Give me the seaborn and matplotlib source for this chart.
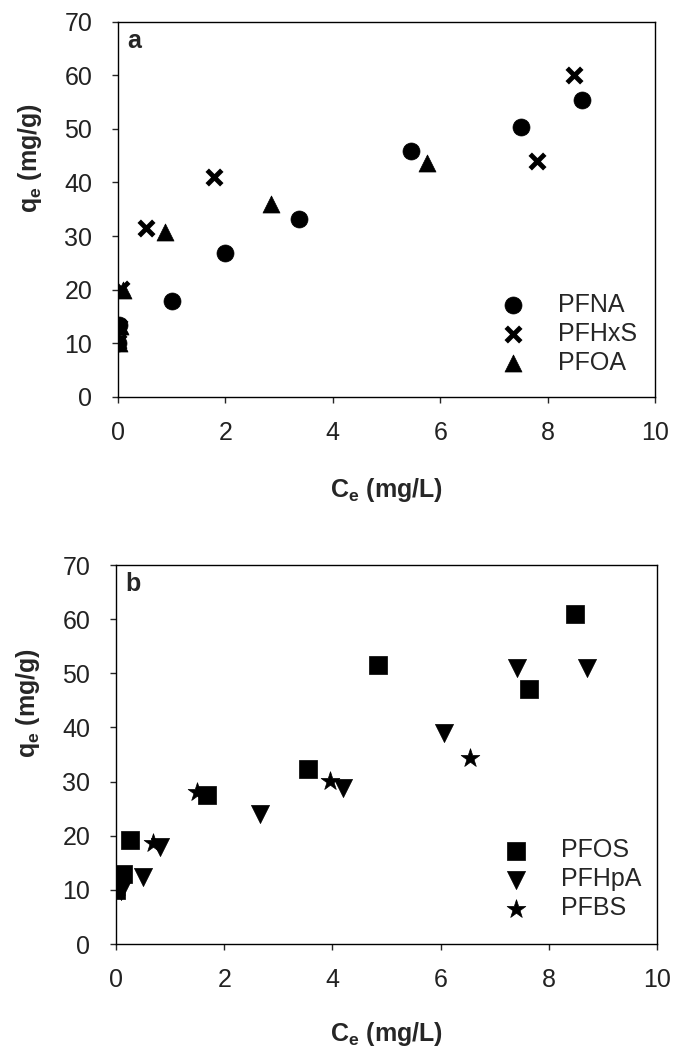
import matplotlib
matplotlib.use("Agg")
import matplotlib.pyplot as plt
import seaborn as sns
import pandas as pd

sns.set_style("ticks")
plt.rcParams['font.family'] = ['Liberation Sans', 'DejaVu Sans']
plt.rcParams['mathtext.fontset'] = 'custom'
plt.rcParams['mathtext.rm'] = 'Liberation Sans'
plt.rcParams['mathtext.bf'] = 'Liberation Sans:bold'

# Panel a
pfna_x = [0.0, 0.02, 1.0, 1.99, 3.37, 5.45, 7.50, 8.64]
pfna_y = [10.0, 13.4, 17.9, 26.8, 33.2, 45.8, 50.4, 55.4]
pfhxs_x = [0.0, 0.02, 0.05, 0.53, 1.78, 7.81, 8.50]
pfhxs_y = [10.2, 13.0, 20.1, 31.6, 41.1, 44.1, 60.1]
pfoa_x = [0.02, 0.04, 0.10, 0.87, 2.84, 5.75]
pfoa_y = [10.0, 13.2, 20.0, 30.8, 36.0, 43.6]

# Panel b
pfos_x = [0.0, 0.12, 0.25, 1.69, 3.54, 4.85, 7.63, 8.48]
pfos_y = [10.0, 12.9, 19.3, 27.6, 32.3, 51.5, 47.1, 60.9]
pfhpa_x = [0.10, 0.50, 0.81, 2.67, 4.19, 6.07, 7.42, 8.71]
pfhpa_y = [9.7, 12.3, 18.0, 24.1, 28.9, 38.9, 51.0, 51.0]
pfbs_x = [0.05, 0.69, 1.49, 3.96, 6.55]
pfbs_y = [10.6, 18.6, 28.1, 30.2, 34.4]

x_ticks = [0, 2, 4, 6, 8, 10]
y_ticks = [0, 10, 20, 30, 40, 50, 60, 70]

fig = plt.figure(figsize=(6.75, 10.51), dpi=100)
ax_a = fig.add_axes([0.1748, 0.6223, 0.7956, 0.3571])
ax_b = fig.add_axes([0.1719, 0.1018, 0.8015, 0.3606])

def draw(ax, series, letter, leg_anchor, xlab_y):
    for name, xs, ys, mk, sz, lw in series:
        df = pd.DataFrame({'x': xs, 'y': ys})
        if mk == 'x':
            sns.scatterplot(data=df, x='x', y='y', ax=ax, marker=mk, s=sz,
                            color='black', linewidth=lw, label=name, zorder=3)
        else:
            sns.scatterplot(data=df, x='x', y='y', ax=ax, marker=mk, s=sz,
                            color='black', edgecolor='black', linewidth=0.5,
                            label=name, zorder=3)
    ax.set_xlim(0, 10)
    ax.set_ylim(0, 70)
    ax.set_xticks(x_ticks)
    ax.set_yticks(y_ticks)
    ax.tick_params(direction='out', length=4.5, width=1, labelsize=18,
                   labelcolor='#222222')
    ax.tick_params(axis='x', pad=13)
    ax.tick_params(axis='y', pad=14)
    for sp in ax.spines.values():
        sp.set_visible(True)
        sp.set_linewidth(1.0)
        sp.set_color('black')
    ax.set_xlabel(r'C$_\mathbf{e}$ (mg/L)', fontsize=18, fontweight='bold')
    ax.set_ylabel(r'q$_\mathbf{e}$ (mg/g)', fontsize=18, fontweight='bold')
    ax.xaxis.set_label_coords(0.5, xlab_y)
    ax.yaxis.set_label_coords(-0.137, 0.637)
    ax.annotate(letter, xy=(0, 1), xycoords='axes fraction',
                xytext=(7, -5), textcoords='offset points',
                fontsize=18, fontweight='bold', va='top', ha='left')
    ax.legend(loc='lower right', frameon=False, fontsize=18,
              handletextpad=0.8, labelspacing=0.2, borderaxespad=0,
              bbox_to_anchor=leg_anchor)

draw(ax_a, [('PFNA', pfna_x, pfna_y, 'o', 150, 0.5),
            ('PFHxS', pfhxs_x, pfhxs_y, 'x', 110, 3.5),
            ('PFOA', pfoa_x, pfoa_y, '^', 150, 0.5)], 'a', (0.985, 0.033), -0.21)
draw(ax_b, [('PFOS', pfos_x, pfos_y, 's', 150, 0.5),
            ('PFHpA', pfhpa_x, pfhpa_y, 'v', 170, 0.5),
            ('PFBS', pfbs_x, pfbs_y, '*', 200, 0.5)], 'b', (0.99, 0.036), -0.20)

fig.savefig('out.png', dpi=100)
